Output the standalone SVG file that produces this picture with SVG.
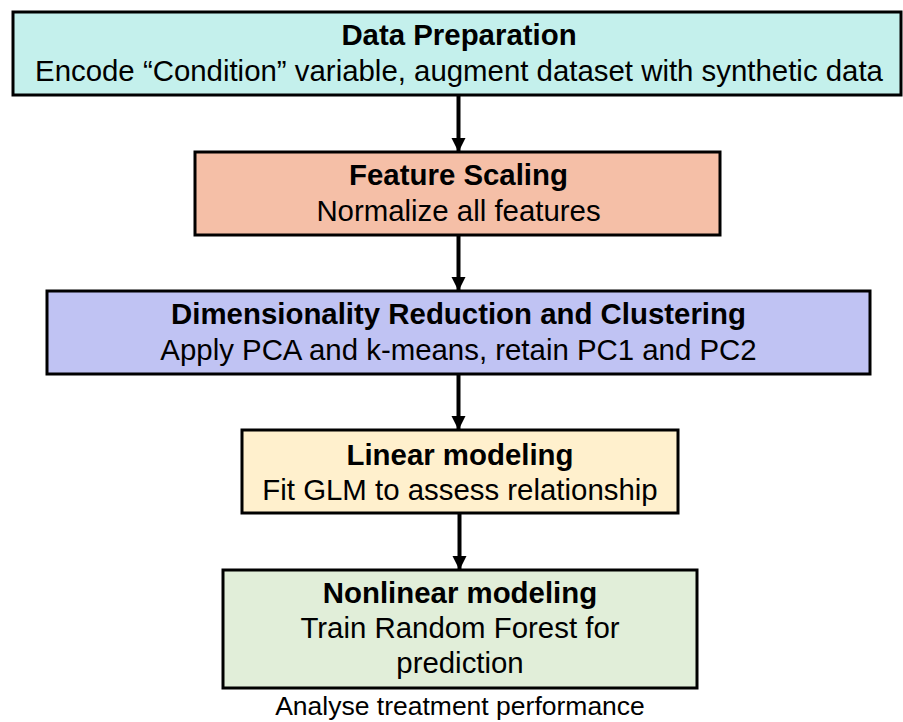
<svg xmlns="http://www.w3.org/2000/svg" width="903" height="722" viewBox="0 0 903 722">
  <style>
    .box { stroke: #000; stroke-width: 3; }
    .title { font-family: "Liberation Sans", Arial, sans-serif; font-size: 29.4px; font-weight: bold; fill: #000; text-anchor: middle; }
    .sub { font-family: "Liberation Sans", Arial, sans-serif; font-size: 29.4px; fill: #000; text-anchor: middle; }
    .note { font-family: "Liberation Sans", Arial, sans-serif; font-size: 26.5px; fill: #000; text-anchor: middle; }
    .edge { stroke: #000; stroke-width: 4; fill: none; }
  </style>
  <defs>
    <marker id="arrow" markerUnits="userSpaceOnUse" markerWidth="14" markerHeight="16" refX="14" refY="7" orient="auto">
      <path d="M0,0 L14,7 L0,14 Z" fill="#000"/>
    </marker>
  </defs>
  <rect width="903" height="722" fill="#fff"/>

  <g id="connectors">
    <line class="edge" x1="458.5" y1="96" x2="458.5" y2="152" marker-end="url(#arrow)"/>
    <line class="edge" x1="458.5" y1="236" x2="458.5" y2="291" marker-end="url(#arrow)"/>
    <line class="edge" x1="458.5" y1="375" x2="458.5" y2="430" marker-end="url(#arrow)"/>
    <line class="edge" x1="459.5" y1="514" x2="459.5" y2="570" marker-end="url(#arrow)"/>
  </g>

  <g id="data-preparation">
    <rect class="box" x="13" y="12" width="888" height="83" fill="#c4f0ec"/>
    <text class="title" x="459" y="45">Data Preparation</text>
    <text class="sub" x="459" y="81">Encode “Condition” variable, augment dataset with synthetic data</text>
  </g>

  <g id="feature-scaling">
    <rect class="box" x="195" y="152" width="525" height="83" fill="#f5bfa7"/>
    <text class="title" x="458.5" y="185">Feature Scaling</text>
    <text class="sub" x="458.5" y="221">Normalize all features</text>
  </g>

  <g id="dim-reduction">
    <rect class="box" x="47" y="291" width="823" height="83" fill="#c0c3f3"/>
    <text class="title" x="458.5" y="324">Dimensionality Reduction and Clustering</text>
    <text class="sub" x="458.5" y="360">Apply PCA and k-means, retain PC1 and PC2</text>
  </g>

  <g id="linear-modeling">
    <rect class="box" x="242" y="430" width="436" height="83" fill="#fff0cd"/>
    <text class="title" x="460" y="465">Linear modeling</text>
    <text class="sub" x="460" y="500">Fit GLM to assess relationship</text>
  </g>

  <g id="nonlinear-modeling">
    <rect class="box" x="223" y="570" width="474" height="118" fill="#e1eed9"/>
    <text class="title" x="460" y="603">Nonlinear modeling</text>
    <text class="sub" x="460" y="638">Train Random Forest for</text>
    <text class="sub" x="460" y="673">prediction</text>
  </g>

  <text class="note" x="460" y="715">Analyse treatment performance</text>
</svg>
